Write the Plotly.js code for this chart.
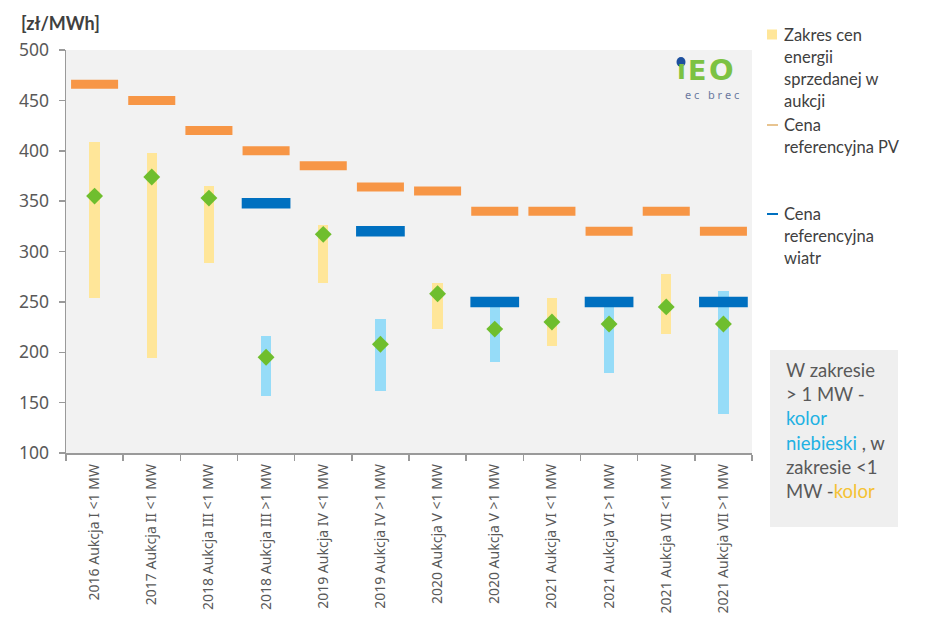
<!DOCTYPE html>
<html>
<head>
<meta charset="utf-8">
<script src="https://cdn.plot.ly/plotly-3.0.1.min.js"></script>
<style>
  html, body { margin: 0; padding: 0; background: #ffffff; }
  #chart { width: 940px; height: 632px; }
</style>
</head>
<body>
<div id="chart"></div>
<script>
// Auction categories (year, auction, installation size)
const categories = [
  "2016 Aukcja I <1 MW",
  "2017 Aukcja II <1 MW",
  "2018 Aukcja III <1 MW",
  "2018 Aukcja III >1 MW",
  "2019 Aukcja IV <1 MW",
  "2019 Aukcja IV >1 MW",
  "2020 Aukcja V <1 MW",
  "2020 Aukcja V >1 MW",
  "2021 Aukcja VI <1 MW",
  "2021 Aukcja VI >1 MW",
  "2021 Aukcja VII <1 MW",
  "2021 Aukcja VII >1 MW"
];

// Range of prices of energy sold in each auction [zł/MWh]
const priceMin = [254, 194, 289, 157, 269, 162, 223, 190, 206, 179, 218, 139];
const priceMax = [409, 398, 365, 216, 326, 233, 269, 250, 254, 250, 278, 261];
// Average auction price [zł/MWh]
const priceAvg = [355, 374, 353, 195, 317, 208, 258, 223, 230, 228, 245, 228];

// Reference prices [zł/MWh]
const refPV = [466, 450, 420, 400, 385, 364, 360, 340, 340, 320, 340, 320];
const windCats = ["2018 Aukcja III >1 MW", "2019 Aukcja IV >1 MW", "2020 Aukcja V >1 MW",
                  "2021 Aukcja VI >1 MW", "2021 Aukcja VII >1 MW"];
const refWind = [348, 320, 250, 250, 250];

// Colours
const C = {
  small: "#ffe699",     // range, installations <1 MW
  large: "#96dcf8",     // range, installations >1 MW
  avg: "#6fbe2e",
  pv: "#f79646",
  wind: "#0070c0",
  text: "#595959",
  axis: "#9a9a9a"
};
const TICK_FONT = "'Noto Sans', 'Open Sans', sans-serif";
const LABEL_FONT = "Lato, sans-serif";

const isLarge = categories.map(c => c.indexOf(">1") !== -1);

const rangeTrace = {
  type: "bar",
  x: categories,
  base: priceMin,
  y: priceMax.map((v, i) => v - priceMin[i]),
  width: 0.18,
  marker: { color: isLarge.map(l => l ? C.large : C.small), line: { width: 0 } },
  name: "Zakres cen energii sprzedanej w aukcji",
  hoverinfo: "skip"
};

const pvTrace = {
  type: "scatter",
  mode: "markers",
  x: categories,
  y: refPV,
  marker: { symbol: "line-ew", size: 33.6, line: { color: C.pv, width: 9 } },
  name: "Cena referencyjna PV"
};

const windTrace = {
  type: "scatter",
  mode: "markers",
  x: windCats,
  y: refWind,
  marker: { symbol: "line-ew", size: 34.8, line: { color: C.wind, width: 10.5 } },
  name: "Cena referencyjna wiatr"
};

const avgTrace = {
  type: "scatter",
  mode: "markers",
  x: categories,
  y: priceAvg,
  marker: { symbol: "diamond", size: 13, color: C.avg, line: { width: 0 } },
  name: "Średnia cena"
};

// Plot area in pixels, used to place the side legend and notes
const PA = { l: 66, r: 752, t: 50, b: 453 };
const fx = px => (px - PA.l) / (PA.r - PA.l);
const fy = py => (PA.b - py) / (PA.b - PA.t);

const annotations = [];
const shapes = [];

function addLine(text, px, py, size, color, family, extra) {
  annotations.push(Object.assign({
    xref: "paper", yref: "paper", x: fx(px), y: fy(py),
    xanchor: "left", yanchor: "middle", showarrow: false,
    text: text, font: { family: family || LABEL_FONT, size: size, color: color }
  }, extra || {}));
}

// Unit label
addLine("<b>[zł/MWh]</b>", 19, 23, 18, "#404040");

// Side legend
const legendItems = [
  { lines: ["Zakres cen", "energii", "sprzedanej w", "aukcji"], y0: 35, sym: "square", color: C.small },
  { lines: ["Cena", "referencyjna PV"], y0: 125, sym: "line", color: "#e8c490" },
  { lines: ["Cena", "referencyjna", "wiatr"], y0: 214, sym: "line", color: C.wind }
];
legendItems.forEach(item => {
  item.lines.forEach((t, k) => addLine(t, 782, item.y0 + k * 22, 16.5, "#404040"));
  if (item.sym === "square") {
    shapes.push({ type: "rect", xref: "paper", yref: "paper",
      x0: fx(767), x1: fx(777), y0: fy(39.5), y1: fy(29.5),
      fillcolor: item.color, line: { width: 0 } });
  } else {
    shapes.push({ type: "line", xref: "paper", yref: "paper",
      x0: fx(767), x1: fx(778), y0: fy(item.y0), y1: fy(item.y0),
      line: { color: item.color, width: 2 } });
  }
});

// Colour note box
shapes.push({ type: "rect", xref: "paper", yref: "paper",
  x0: fx(770), x1: fx(898), y0: fy(527), y1: fy(350),
  fillcolor: "#efefef", line: { width: 0 }, layer: "below" });
const noteLines = [
  "W zakresie",
  "&gt; 1 MW -",
  "<span style='color:#22b1e3'>kolor</span>",
  "<span style='color:#22b1e3'>niebieski</span> , w",
  "zakresie &lt;1",
  "MW -<span style='color:#f5c233'>kolor</span>"
];
noteLines.forEach((t, k) => addLine(t, 784, 370 + k * 24.2, 18.5, C.text));

// IEO ec brec logo
const LOGO_FONT = "'DejaVu Sans', sans-serif";
shapes.push({ type: "circle", xref: "paper", yref: "paper",
  x0: fx(676.5), x1: fx(685.5), y0: fy(67), y1: fy(57),
  fillcolor: "#1d4f9e", line: { width: 0 } });
addLine("<b>ı</b>", 674.5, 70, 26, "#7cc242", LOGO_FONT);
addLine("<b>E</b>", 685.5, 70, 27, "#7cc242", LOGO_FONT);
addLine("<b>O</b>", 707, 70, 29, "#7cc242", LOGO_FONT);
addLine("e c &nbsp; b r e c", 683, 94, 11, "#6a79a0", TICK_FONT);

const layout = {
  width: 940,
  height: 632,
  margin: { l: PA.l, r: 940 - PA.r, t: PA.t, b: 632 - PA.b, pad: 0 },
  paper_bgcolor: "#ffffff",
  plot_bgcolor: "#f2f2f2",
  showlegend: false,
  bargap: 0,
  font: { family: TICK_FONT, color: C.text },
  xaxis: {
    type: "category",
    categoryorder: "array",
    categoryarray: categories,
    range: [-0.5, 11.5],
    tickangle: -90,
    tickson: "boundaries",
    ticks: "outside",
    ticklen: 6,
    tickcolor: C.axis,
    tickwidth: 1.5,
    showline: true,
    linecolor: C.axis,
    linewidth: 1.5,
    showgrid: false,
    zeroline: false,
    ticklabelstandoff: 4,
    tickfont: { family: TICK_FONT, size: 14, color: C.text }
  },
  yaxis: {
    range: [100, 500],
    dtick: 50,
    ticks: "outside",
    ticklen: 6,
    tickcolor: C.axis,
    tickwidth: 1.5,
    showline: true,
    linecolor: C.axis,
    linewidth: 1.5,
    showgrid: false,
    zeroline: false,
    ticklabelstandoff: 6,
    tickfont: { family: TICK_FONT, size: 17.5, color: C.text }
  },
  annotations: annotations,
  shapes: shapes
};

Plotly.newPlot("chart", [rangeTrace, pvTrace, windTrace, avgTrace], layout,
  { displayModeBar: false, staticPlot: true });
</script>
</body>
</html>
